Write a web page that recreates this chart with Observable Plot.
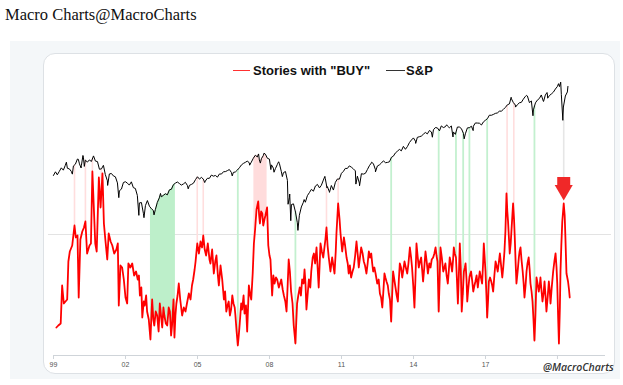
<!DOCTYPE html>
<html><head><meta charset="utf-8">
<script src="https://cdn.jsdelivr.net/npm/d3@7"></script>
<script src="https://cdn.jsdelivr.net/npm/@observablehq/plot@0.6"></script>
<style>
body{margin:0;width:623px;height:385px;background:#fff;position:relative;overflow:hidden;font-family:"Liberation Sans",Arial,sans-serif}
#title{position:absolute;left:5px;top:5px;font:16.5px "Liberation Serif",serif;color:#111;white-space:nowrap}
#panel{position:absolute;left:10px;top:41px;width:610px;height:338px;background:#f4f7f9}
#card{position:absolute;left:43px;top:53px;width:572px;height:321px;background:#fff;border:1px solid #dde1e5;border-radius:12px;box-sizing:border-box}
#chart{position:absolute;left:43px;top:53px}
#legend{position:absolute;left:233px;top:62px;height:16px;display:flex;align-items:center;font-weight:bold;font-size:13px;color:#111;white-space:nowrap}
#legend .sw{display:inline-block;width:17px;height:0;border-top:1.5px solid;margin-right:3px}
#wm{position:absolute;left:543px;top:360px;font:italic 600 10.5px "Open Sans",sans-serif;color:#333;white-space:nowrap}
</style></head>
<body>
<div id="title">Macro Charts@MacroCharts</div>
<div id="panel"></div>
<div id="card"></div>
<div id="chart"></div>
<div id="legend"><span class="sw" style="border-color:#ff3030"></span><span>Stories with "BUY"</span><span class="sw" style="border-color:#333;width:19px;margin-left:16px;margin-right:1px"></span><span>S&amp;P</span></div>
<div id="wm">@MacroCharts</div>
<script>
// Stories with "BUY" (relative count), [decimal year, value]
const redSeries = [
[1999.12,14],[1999.2,15],[1999.3,16],[1999.36,35],[1999.43,26],[1999.5,27],[1999.57,28],[1999.62,47],[1999.68,52],[1999.78,55],
[1999.875,65],[1999.93,59],[2000.0,60],[2000.05,29],[2000.12,58],[2000.2,62],[2000.27,64],[2000.33,67],[2000.4,51],[2000.5,55],
[2000.56,56],[2000.62,92],[2000.68,74],[2000.74,56],[2000.8,52],[2000.89,89],[2000.96,74],[2001.04,91],[2001.1,66],[2001.16,58],
[2001.24,48],[2001.3,61],[2001.38,57],[2001.45,55],[2001.53,51],[2001.62,53],[2001.68,56],[2001.72,25],[2001.79,45],[2001.86,44],
[2001.93,38],[2002.0,29],[2002.07,26],[2002.12,46],[2002.2,44],[2002.28,46],[2002.36,40],[2002.44,42],[2002.51,38],[2002.56,40],
[2002.6,30],[2002.66,34],[2002.7,19],[2002.76,27],[2002.8,25],[2002.86,30],[2002.9,22],[2002.97,18],[2003.04,8],[2003.08,20],
[2003.11,28],[2003.16,18],[2003.2,15],[2003.26,22],[2003.32,20],[2003.38,12],[2003.43,26],[2003.48,20],[2003.53,14],[2003.58,24],
[2003.62,20],[2003.68,16],[2003.74,15],[2003.8,24],[2003.85,22],[2003.9,10],[2003.94,15],[2004.0,28],[2004.04,9],[2004.08,20],
[2004.12,26],[2004.17,30],[2004.22,36],[2004.28,28],[2004.36,20],[2004.43,24],[2004.5,22],[2004.56,26],[2004.64,31],[2004.71,28],
[2004.77,35],[2004.82,38],[2004.88,43],[2004.92,47],[2004.99,56],[2005.06,51],[2005.125,57],[2005.19,54],[2005.24,60],[2005.3,53],
[2005.36,50],[2005.43,56],[2005.5,48],[2005.54,46],[2005.61,53],[2005.68,41],[2005.74,47],[2005.79,50],[2005.85,40],[2005.89,35],
[2005.96,45],[2006.03,38],[2006.1,28],[2006.15,32],[2006.2,22],[2006.25,25],[2006.3,27],[2006.35,20],[2006.4,23],[2006.45,30],
[2006.5,26],[2006.55,24],[2006.58,20],[2006.63,12],[2006.68,5],[2006.72,10],[2006.76,16],[2006.82,26],[2006.86,23],[2006.92,30],
[2006.96,21],[2007.02,25],[2007.07,12],[2007.14,35],[2007.2,30],[2007.24,28],[2007.3,41],[2007.35,56],[2007.4,63],[2007.46,73],
[2007.53,77],[2007.57,70],[2007.6,66],[2007.65,72],[2007.7,71],[2007.74,65],[2007.79,68],[2007.83,70],[2007.9,74],[2007.95,55],
[2008.0,50],[2008.04,48],[2008.11,30],[2008.16,40],[2008.21,36],[2008.27,39],[2008.32,38],[2008.39,34],[2008.44,36],[2008.49,38],
[2008.55,33],[2008.6,30],[2008.66,27],[2008.71,22],[2008.76,36],[2008.8,48],[2008.85,42],[2008.9,32],[2008.96,26],[2009.01,15],
[2009.05,10],[2009.08,6],[2009.12,18],[2009.15,26],[2009.2,30],[2009.26,34],[2009.31,30],[2009.36,38],[2009.42,36],[2009.46,43],
[2009.5,36],[2009.54,23],[2009.6,32],[2009.64,38],[2009.7,34],[2009.74,42],[2009.8,49],[2009.85,51],[2009.9,46],[2009.96,54],
[2010.05,34],[2010.125,56],[2010.18,52],[2010.24,49],[2010.29,54],[2010.33,58],[2010.375,64],[2010.42,55],[2010.47,49],[2010.54,42],
[2010.61,49],[2010.66,45],[2010.71,41],[2010.76,52],[2010.79,61],[2010.86,76],[2010.92,68],[2010.96,61],[2011.03,52],[2011.1,59],
[2011.15,55],[2011.21,49],[2011.26,46],[2011.3,41],[2011.35,45],[2011.4,39],[2011.46,42],[2011.51,44],[2011.57,50],[2011.625,57],
[2011.68,50],[2011.72,44],[2011.77,49],[2011.82,54],[2011.88,51],[2011.93,47],[2011.98,45],[2012.04,41],[2012.09,46],[2012.14,52],
[2012.19,49],[2012.24,51],[2012.28,46],[2012.32,42],[2012.37,44],[2012.42,41],[2012.49,36],[2012.55,38],[2012.6,31],[2012.65,29],
[2012.7,24],[2012.75,33],[2012.79,41],[2012.83,39],[2012.875,37],[2012.93,35],[2012.97,31],[2013.02,28],[2013.07,17],[2013.11,30],
[2013.15,42],[2013.2,38],[2013.25,34],[2013.3,30],[2013.35,27],[2013.39,38],[2013.43,46],[2013.48,44],[2013.53,39],[2013.58,43],
[2013.625,47],[2013.68,44],[2013.74,41],[2013.79,46],[2013.85,54],[2013.9,49],[2013.94,44],[2013.99,35],[2014.04,24],[2014.08,38],
[2014.125,56],[2014.17,50],[2014.22,44],[2014.27,47],[2014.32,49],[2014.36,43],[2014.4,37],[2014.45,44],[2014.5,52],[2014.55,47],
[2014.6,41],[2014.66,46],[2014.71,44],[2014.76,48],[2014.82,49],[2014.87,51],[2014.92,54],[2014.96,50],[2015.0,47],[2015.05,22],
[2015.09,38],[2015.125,54],[2015.18,49],[2015.24,42],[2015.29,44],[2015.33,46],[2015.38,40],[2015.43,36],[2015.47,42],[2015.51,49],
[2015.56,46],[2015.61,42],[2015.65,48],[2015.68,54],[2015.72,51],[2015.77,49],[2015.81,38],[2015.85,26],[2015.89,40],[2015.93,56],
[2015.97,44],[2016.01,22],[2016.05,30],[2016.1,42],[2016.14,44],[2016.17,46],[2016.21,38],[2016.24,27],[2016.28,33],[2016.33,39],
[2016.37,41],[2016.4,42],[2016.45,37],[2016.49,32],[2016.54,35],[2016.58,37],[2016.63,40],[2016.68,34],[2016.72,38],[2016.76,42],
[2016.81,39],[2016.86,36],[2016.9,46],[2016.93,56],[2016.97,48],[2017.0,42],[2017.04,30],[2017.07,19],[2017.11,28],[2017.14,37],
[2017.19,39],[2017.24,37],[2017.28,35],[2017.32,32],[2017.37,40],[2017.42,47],[2017.46,45],[2017.51,42],[2017.55,46],[2017.6,51],
[2017.65,45],[2017.7,39],[2017.74,44],[2017.79,52],[2017.83,62],[2017.875,81],[2017.91,72],[2017.94,67],[2017.98,58],[2018.01,51],
[2018.05,56],[2018.08,62],[2018.12,70],[2018.15,76],[2018.19,68],[2018.22,59],[2018.26,45],[2018.29,36],[2018.34,42],[2018.39,49],
[2018.42,52],[2018.46,54],[2018.5,48],[2018.55,42],[2018.59,36],[2018.625,29],[2018.67,35],[2018.71,42],[2018.75,46],[2018.8,49],
[2018.84,43],[2018.875,36],[2018.92,32],[2018.96,27],[2019.0,18],[2019.04,7.5],[2019.08,20],[2019.125,39],[2019.17,36],[2019.22,32],
[2019.26,35],[2019.29,39],[2019.33,33],[2019.375,27],[2019.42,31],[2019.46,37],[2019.5,30],[2019.54,22],[2019.59,29],[2019.64,37],
[2019.68,32],[2019.71,26],[2019.76,34],[2019.82,42],[2019.87,47],[2019.92,51],[2019.96,44],[2019.99,36],[2020.03,18],[2020.06,6],
[2020.1,24],[2020.125,42],[2020.16,55],[2020.2,67],[2020.26,76],[2020.3,70],[2020.33,59],[2020.375,41],[2020.44,37],[2020.48,33],
[2020.51,29]
];
// S&P 500 month-end closes, Jan 1999 .. May 2020
const spMonthly = [
1279,1238,1286,1335,1302,1373,1329,1320,1283,1363,1389,1469,
1394,1366,1499,1452,1421,1455,1431,1518,1437,1429,1315,1320,
1366,1240,1160,1249,1256,1224,1211,1134,1041,1060,1139,1148,
1130,1107,1147,1077,1067,990,912,916,815,886,936,880,
856,841,848,917,964,975,990,1008,996,1051,1058,1112,
1131,1145,1126,1107,1121,1141,1102,1104,1115,1130,1174,1212,
1181,1204,1181,1157,1192,1191,1234,1220,1229,1207,1249,1248,
1280,1281,1295,1311,1270,1270,1277,1304,1336,1378,1401,1418,
1438,1407,1421,1482,1531,1503,1455,1474,1527,1549,1481,1468,
1379,1331,1323,1386,1400,1280,1267,1283,1165,969,896,903,
826,735,798,873,919,919,987,1021,1057,1036,1096,1115,
1074,1104,1169,1187,1089,1031,1102,1049,1141,1183,1181,1258,
1286,1327,1326,1364,1345,1321,1292,1219,1131,1253,1247,1258,
1312,1366,1408,1398,1310,1362,1379,1407,1441,1412,1416,1426,
1498,1515,1569,1598,1631,1606,1686,1633,1682,1757,1806,1848,
1783,1859,1872,1884,1924,1960,1931,2003,1972,2018,2068,2059,
1995,2105,2068,2086,2107,2063,2104,1972,1920,2079,2080,2044,
1940,1932,2060,2065,2097,2099,2174,2171,2168,2126,2199,2239,
2279,2364,2363,2384,2412,2423,2470,2472,2519,2575,2648,2674,
2824,2714,2641,2648,2705,2718,2816,2902,2914,2712,2760,2507,
2704,2784,2834,2946,2752,2942,2980,2926,2977,3038,3141,3231,
3226,2954,2585,2912,3044
];
// S&P 500 intra-month highs and lows
const spTurns = [
["1998-12-31",1229],["1999-07-16",1419],["1999-10-15",1247],["2000-01-14",1465],["2000-02-25",1333],["2000-03-24",1527],
["2000-04-14",1356],["2000-09-01",1520],["2001-01-30",1373],["2001-04-04",1103],["2001-09-21",966],["2002-07-23",797],
["2002-10-09",777],["2003-03-11",801],["2003-06-17",1011],["2004-08-12",1063],["2005-04-20",1138],["2006-06-13",1223],
["2007-03-05",1374],["2007-07-19",1553],["2007-08-15",1406],["2007-10-09",1565],["2008-01-22",1310],["2008-03-10",1273],
["2008-05-19",1426],["2008-07-15",1214],["2008-10-10",899],["2008-11-04",1005],["2008-11-20",752],["2009-03-09",677],
["2009-06-12",946],["2010-04-23",1217],["2010-05-25",1074],["2010-07-02",1023],["2011-04-29",1363],["2011-08-08",1119],
["2011-10-03",1099],["2012-04-02",1419],["2012-06-01",1278],["2014-02-03",1741],["2014-10-15",1862],["2015-05-21",2131],
["2015-08-25",1867],["2016-02-11",1829],["2016-06-27",2001],["2018-01-26",2873],["2018-04-02",2582],["2018-09-20",2931],
["2018-12-24",2351],["2019-06-03",2744],["2019-07-26",3025],["2019-08-05",2844],["2020-01-17",3330],["2020-02-19",3386],
["2020-03-23",2237],["2020-06-08",3232]
];
const greenBands = [[2003.04, 2004.08]];
const pinkBands = [[2007.35, 2007.93]];
const greenLines = [2006.68, 2009.08, 2013.07, 2015.05, 2015.77, 2016.07, 2016.33, 2017.07, 2019.04];
const pinkLines = [1999.875, 2000.33, 2000.62, 2000.99, 2004.99, 2005.24, 2010.375, 2010.86, 2017.9, 2018.18];
const tickYears = [1999, 2002, 2005, 2008, 2011, 2014, 2017, 2020];
const hiddenTickLabels = [2020];
const gridValue = 60.5;

const toDate = y => new Date(Date.UTC(1999,0,1) + (y-1999)*365.25*864e5);
const red = redSeries.map(([t,v]) => ({date: toDate(t), v}));
const sp = spMonthly.map((p,i) => ({date: new Date(Date.UTC(1999, i+1, 0)), p}))
  .concat(spTurns.map(([d,p]) => ({date: new Date(d + "T00:00:00Z"), p})))
  .sort((a,b) => a.date - b.date);
// secondary (log) axis for S&P, expressed in the primary y units
const spScale = d3.scaleLog().domain([600, 3600]).range([57, 139.5]);
const spAt = date => {
  const i = d3.bisector(d => d.date).left(sp, date);
  if (i <= 0) return sp[0].p;
  if (i >= sp.length) return sp[sp.length-1].p;
  const a = sp[i-1], b = sp[i], t = (date - a.date)/(b.date - a.date);
  return a.p + (b.p - a.p)*t;
};
const redNear = date => d3.least(red, d => Math.abs(d.date - date)).v;
const bandPoints = ([s,e]) => red.filter(d => d.date >= toDate(s) && d.date <= toDate(e))
  .map(d => ({date: d.date, lo: d.v, hi: spScale(spAt(d.date))}));
const linePoints = arr => arr.map(t => ({date: toDate(t), lo: redNear(toDate(t)), hi: spScale(spAt(toDate(t)))}));
const peak = d3.greatest(red.filter(d => d.date >= toDate(2020)), d => d.v);
const spLow2020 = d3.least(sp.filter(d => d.date >= toDate(2020)), d => d.p);

const chart = Plot.plot({
  width: 572, height: 321,
  marginLeft: 10, marginRight: 10, marginTop: 22, marginBottom: 19,
  x: {type: "utc", domain: [new Date(Date.UTC(1999,0,1)), new Date(Date.UTC(2022,0,1))]},
  y: {domain: [0, 140], axis: null},
  style: {background: "transparent", fontFamily: "Liberation Sans, Arial, sans-serif", overflow: "visible"},
  marks: [
    Plot.ruleY([gridValue], {x1: toDate(1998.79), x2: toDate(2022.25), stroke: "#e3e3e3", strokeWidth: 1}),
    ...greenBands.map(b => Plot.areaY(bandPoints(b), {x: "date", y1: "lo", y2: "hi", fill: "#bdefca", fillOpacity: 1})),
    ...pinkBands.map(b => Plot.areaY(bandPoints(b), {x: "date", y1: "lo", y2: "hi", fill: "#ffdcdc", fillOpacity: 1})),
    Plot.ruleX(linePoints(greenLines), {x: "date", y1: "lo", y2: "hi", stroke: "#c3f0cf", strokeWidth: 1.8}),
    Plot.ruleX(linePoints(pinkLines), {x: "date", y1: "lo", y2: "hi", stroke: "#ffdede", strokeWidth: 1.6}),
    Plot.ruleX([peak], {x: "date", y1: d => d.v + 13, y2: spScale(spLow2020.p), stroke: "#e6e6e6", strokeWidth: 1.6}),
    Plot.ruleY([0], {stroke: "#cfd4d9", strokeWidth: 1}),
    Plot.axisX(tickYears.map(y => new Date(Date.UTC(y,0,1))), {
      tickSize: 4, tickPadding: 3, fontSize: 7, stroke: "#cfd4d9", fill: "#555",
      tickFormat: d => hiddenTickLabels.includes(d.getUTCFullYear()) ? "" : String(d.getUTCFullYear()).slice(2)
    }),
    Plot.line(sp, {x: "date", y: d => spScale(d.p), stroke: "#000", strokeWidth: 1}),
    Plot.line(red, {x: "date", y: "v", stroke: "#ff0000", strokeWidth: 1.8, strokeLinejoin: "round"}),
    Plot.ruleX([peak], {x: "date", y1: d => d.v + 8.75, y2: d => d.v + 13, stroke: "#f02828", strokeWidth: 13}),
    Plot.dot([peak], {x: "date", y: "v", dy: -13.4, symbol: "triangle", r: 6.7, rotate: 180, fill: "#f02828", stroke: "none"})
  ]
});
document.getElementById("chart").appendChild(chart);
</script>
</body></html>
